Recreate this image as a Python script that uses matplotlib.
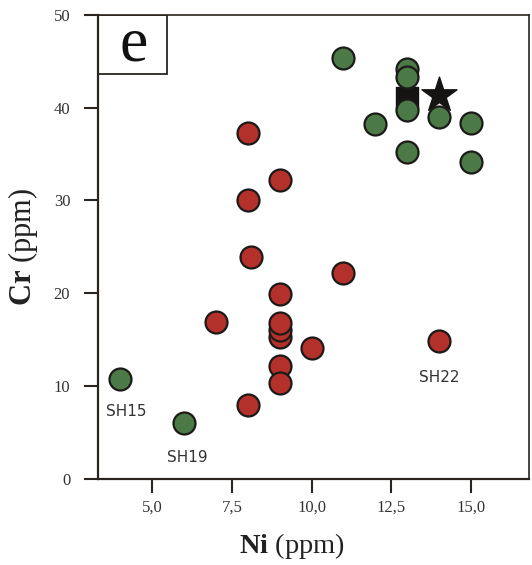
import matplotlib
matplotlib.use('Agg')
import matplotlib.pyplot as plt
from matplotlib.patches import Rectangle

# green group
green_ni = [4, 6, 11, 13, 13, 12, 14, 15, 13, 15, 13]
green_cr = [10.8, 6.0, 45.4, 44.2, 43.3, 38.2, 39.0, 38.3, 35.2, 34.1, 39.8]

# red group
red_ni = [8, 8, 9, 8.1, 9, 7, 9, 9, 9, 10, 9, 9, 11, 14, 8]
red_cr = [37.3, 30.0, 32.2, 23.9, 19.9, 16.9, 15.3, 16.0, 16.8, 14.1, 12.2, 10.3, 22.2, 14.8, 8.0]

# reference symbols
square_ni, square_cr = [13], [41.0]
star_ni, star_cr = [14], [41.4]

labels = ["SH15", "SH19", "SH22"]
label_pos = [(4.2, 7.3), (6.1, 2.3), (14.0, 10.9)]

x_ticks = [5, 7.5, 10, 12.5, 15]
x_ticklabels = ["5,0", "7,5", "10,0", "12,5", "15,0"]
y_ticks = [0, 10, 20, 30, 40, 50]

plt.rcParams['mathtext.fontset'] = 'custom'
plt.rcParams['mathtext.rm'] = 'Liberation Serif'
plt.rcParams['mathtext.bf'] = 'Liberation Serif:bold'

fig = plt.figure(figsize=(5.32, 5.65), dpi=100)
ax = fig.add_axes([0.1842, 0.1527, 0.8102, 0.8208])

edge = '#1c1a18'
ax.scatter(red_ni, red_cr, s=250, c='#b3302b', edgecolors=edge, linewidths=1.6, zorder=3)
ax.scatter(square_ni, square_cr, s=270, marker='s', c='#161412', zorder=4)
ax.scatter(star_ni, star_cr, s=700, marker='*', c='#161412', zorder=4)
ax.scatter(green_ni, green_cr, s=250, c='#4c7a47', edgecolors=edge, linewidths=1.6, zorder=5)

for lab, (x, y) in zip(labels, label_pos):
    ax.text(x, y, lab, ha='center', va='center', fontsize=11,
            family='DejaVu Sans', color='#333333')

ax.set_xlim(3.3, 16.82)
ax.set_ylim(0, 50)
ax.set_xticks(x_ticks)
ax.set_xticklabels(x_ticklabels)
ax.set_yticks(y_ticks)

for lab in ax.get_xticklabels() + ax.get_yticklabels():
    lab.set_family('Liberation Serif')
    lab.set_fontsize(12)
    lab.set_color('#333333')

ax.tick_params(direction='out', length=10, width=1.5, color='#2a2520')
ax.tick_params(axis='x', pad=5)
ax.tick_params(axis='y', pad=10)
for side in ['left', 'bottom']:
    ax.spines[side].set_linewidth(1.6)
    ax.spines[side].set_color('#2a2520')
for side in ['top', 'right']:
    ax.spines[side].set_linewidth(1.2)
    ax.spines[side].set_color('#2a2520')

ax.set_xlabel(r'$\mathbf{Ni}$ (ppm)', fontsize=20.5, family='Liberation Serif', color='#222222')
ax.set_ylabel(r'$\mathbf{Cr}$ (ppm)', fontsize=22, family='Liberation Serif', color='#222222')
ax.xaxis.set_label_coords(0.45, -0.112)
ax.yaxis.set_label_coords(-0.135, 0.5)

# panel letter box
ax.add_patch(Rectangle((0, 0.873), 0.160, 0.127, transform=ax.transAxes,
                       fill=False, edgecolor='#2a2520', linewidth=1.3, zorder=6))
ax.text(0.082, 0.935, 'e', transform=ax.transAxes, ha='center', va='center',
        fontsize=46, family='Liberation Serif', color='#111111')

fig.savefig('out.png', dpi=100)
